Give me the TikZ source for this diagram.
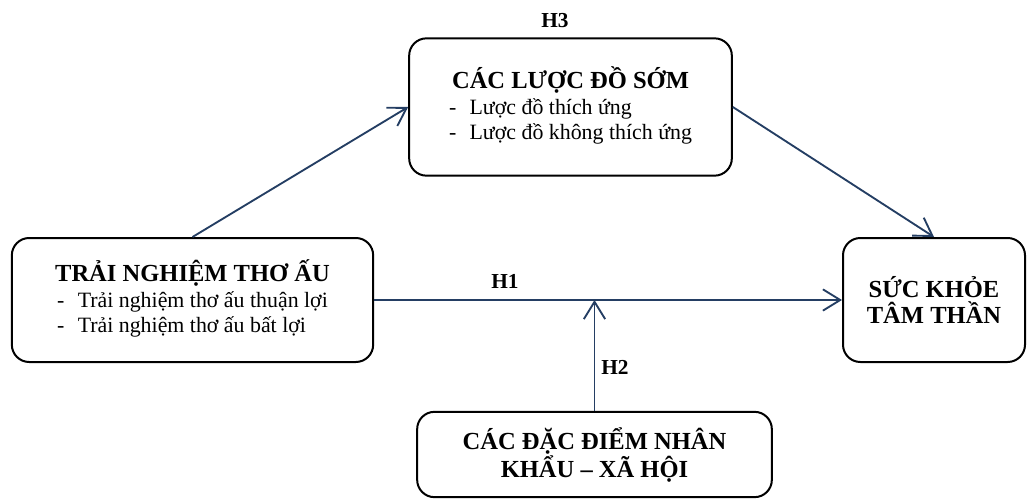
\documentclass[tikz,border=0pt]{standalone}
\usepackage{fontspec}
\setmainfont{Liberation Serif}
\usetikzlibrary{arrows.meta}
\definecolor{arrowblue}{RGB}{36,62,99}

\begin{document}
\begin{tikzpicture}[x=0.75pt,y=0.75pt,yscale=-1,xscale=1,
		box/.style={draw, line width=1.5pt, rounded corners=13pt, align=center, inner sep=0pt},
		title/.style={font=\fontsize{18.4}{19}\selectfont\bfseries},
		link/.style={draw=arrowblue, line width=1.4pt, -{Straight Barb[length=13pt,width=16pt]}},
		hyp/.style={font=\fontsize{16}{18}\selectfont\bfseries, inner sep=0pt}]
		\useasboundingbox (0,0) rectangle (1028,499);
		% boxes
		\node [box, minimum width=242pt, minimum height=103pt] (schema) at (570.5,107) {{\fontsize{18.4}{19}\selectfont\bfseries CÁC LƯỢC ĐỒ SỚM}\\[2pt]
			{\fontsize{16.4}{18.6}\selectfont\begin{tabular}{@{}l@{}}-\hspace{10pt}Lược đồ thích ứng\\-\hspace{10pt}Lược đồ không thích ứng\end{tabular}}};
		\node [box, minimum width=271pt, minimum height=93pt] (exp) at (192.5,300) {{\fontsize{18.4}{19}\selectfont\bfseries TRẢI NGHIỆM THƠ ẤU}\\[2pt]
			{\fontsize{16.4}{18.6}\selectfont\begin{tabular}{@{}l@{}}-\hspace{10pt}Trải nghiệm thơ ấu thuận lợi\\-\hspace{10pt}Trải nghiệm thơ ấu bất lợi\end{tabular}}};
		\node [box, title, minimum width=136.5pt, minimum height=93pt] (health) at (934,300) {SỨC KHỎE\\TÂM THẦN};
		\node [box, title, minimum width=266pt, minimum height=64pt] (demo) at (594.5,454.5) {CÁC ĐẶC ĐIỂM NHÂN\\KHẨU – XÃ HỘI};
		% connectors
		\draw [link] (exp.north) -- (schema.west);
		\draw [link] (schema.east) -- (health.north);
		\draw [link] (exp.east) -- (health.west);
		\draw [link] (demo.north) -- (demo.north |- exp.east);
		% hypotheses
		\node [hyp] (h3) at (555,21) {H3};
		\node [hyp] (h1) at (505,281) {H1};
		\node [hyp] (h2) at (615,367) {H2};
	\end{tikzpicture}
\end{document}
